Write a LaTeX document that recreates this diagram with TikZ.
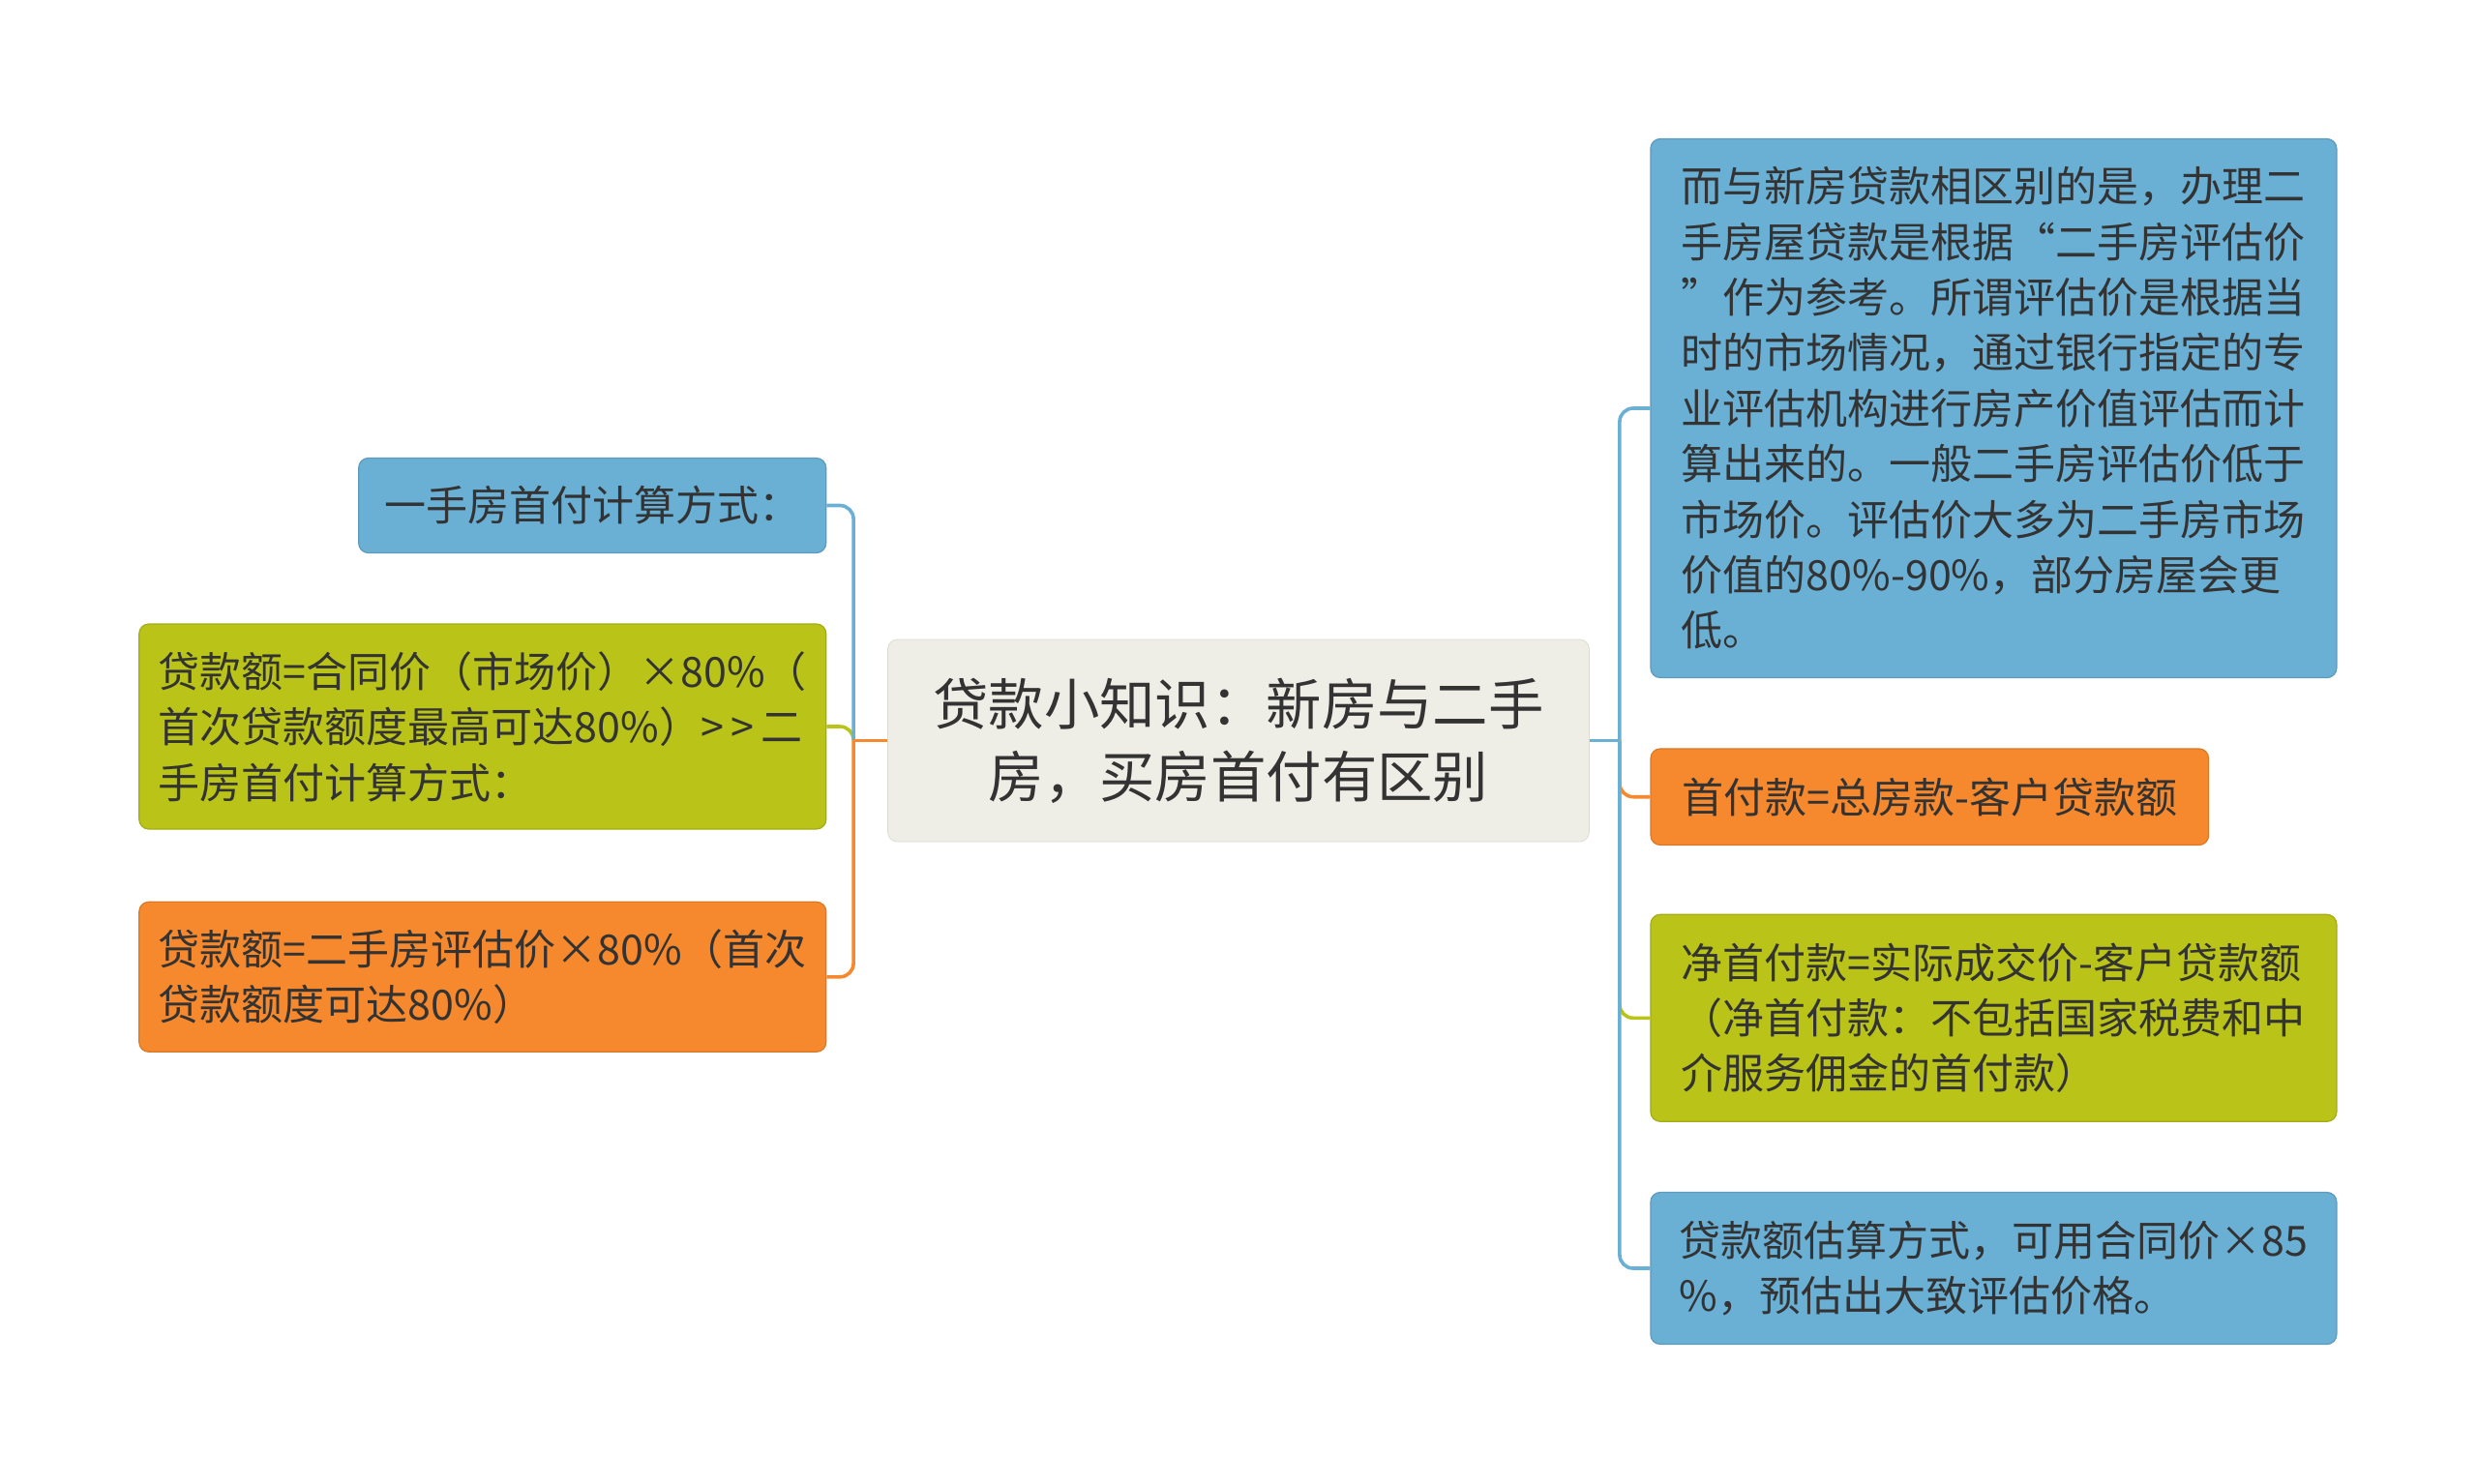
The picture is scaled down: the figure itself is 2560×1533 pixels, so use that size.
\documentclass[tikz,border=0pt]{standalone}
\usepackage{fontspec}
\setmainfont{Noto Sans CJK SC}
\usetikzlibrary{calc}
\definecolor{topicbg}{HTML}{EFEEE6}
\definecolor{leafblue}{HTML}{6AAFD4}
\definecolor{leafgreen}{HTML}{BAC418}
\definecolor{leaforange}{HTML}{F6892D}
\definecolor{inktext}{HTML}{333333}
\tikzset{
  topic/.style={rectangle, rounded corners=5pt, fill=topicbg, draw=topicbg!92!black, line width=0.4pt,
    text=inktext, align=center, font=\fontsize{28.7pt}{37.5pt}\selectfont},
  leaf/.style={rectangle, rounded corners=5pt, line width=0.6pt, text=inktext, align=left,
    font=\fontsize{21.5pt}{28.7pt}\selectfont},
  blueleaf/.style={leaf, fill=leafblue, draw=leafblue!88!black},
  greenleaf/.style={leaf, fill=leafgreen, draw=leafgreen!88!black},
  orangeleaf/.style={leaf, fill=leaforange, draw=leaforange!88!black},
  branch/.style={line width=1.8pt, rounded corners=7pt},
}
\begin{document}
\begin{tikzpicture}[x=0.5pt, y=-0.5pt]
      \useasboundingbox (0, 0) rectangle (2560, 1533);

      \node[topic, minimum width=362.5pt, minimum height=104.5pt] (ctr) at (1280, 765.5) {贷款小知识：新房与二手\\房，买房首付有区别};

      \node[blueleaf, minimum width=241.5pt, minimum height=49pt] (l1) at (612.2, 522.5) {一手房首付计算方式：};
      \node[greenleaf, minimum width=355pt, minimum height=106pt] (l2) at (498.8, 751) {贷款额=合同价（市场价）×80\%（\\首次贷款额度最高可达80\%）>{}\,>{}\,二\\手房首付计算方式：};
      \node[orangeleaf, minimum width=355pt, minimum height=77.5pt] (l3) at (498.8, 1009.8) {贷款额=二手房评估价×80\%（首次\\贷款额度可达80\%）};

      \node[blueleaf, minimum width=354.5pt, minimum height=278.5pt] (r1) at (2060.4, 422) {而与新房贷款相区别的是，办理二\\手房屋贷款是根据“二手房评估价\\”作为参考。所谓评估价是根据当\\时的市场情况，通过银行指定的专\\业评估机构进行房产价值评估而计\\算出来的。一般二手房评估价低于\\市场价。评估价大多为二手房市场\\价值的80\%-90\%，部分房屋会更\\低。};
      \node[orangeleaf, minimum width=288.3pt, minimum height=49.8pt] (r2) at (1994.3, 823.7) {首付款=总房款-客户贷款额};
      \node[greenleaf, minimum width=354.5pt, minimum height=107pt] (r3) at (2060.4, 1052.3) {净首付款=实际成交价-客户贷款额\\（净首付款：不包括国家税费和中\\介服务佣金的首付款）};
      \node[blueleaf, minimum width=354.5pt, minimum height=78.5pt] (r4) at (2060.4, 1311) {贷款额估算方式，可用合同价×85\\\%，预估出大致评估价格。};

      \coordinate (jl) at ($(ctr.west) + (-35, 0)$);
      \coordinate (jr) at ($(ctr.east) + (31, 0)$);

      \draw[branch, leafgreen] (jl) |- (l2.east);
      \draw[branch, leafblue] (jl) |- (l1.east);
      \draw[branch, leaforange] (jl) |- (l3.east);
      \draw[branch, leaforange] (ctr.west) -- (jl);

      \draw[branch, leafblue] (ctr.east) -- (jr);
      \draw[branch, leafblue] (jr) |- (r1.west);
      \draw[branch, leaforange] (jr) |- (r2.west);
      \draw[branch, leafgreen] (jr) |- (r3.west);
      \draw[branch, leafblue] (jr) |- (r4.west);
    \end{tikzpicture}
\end{document}
